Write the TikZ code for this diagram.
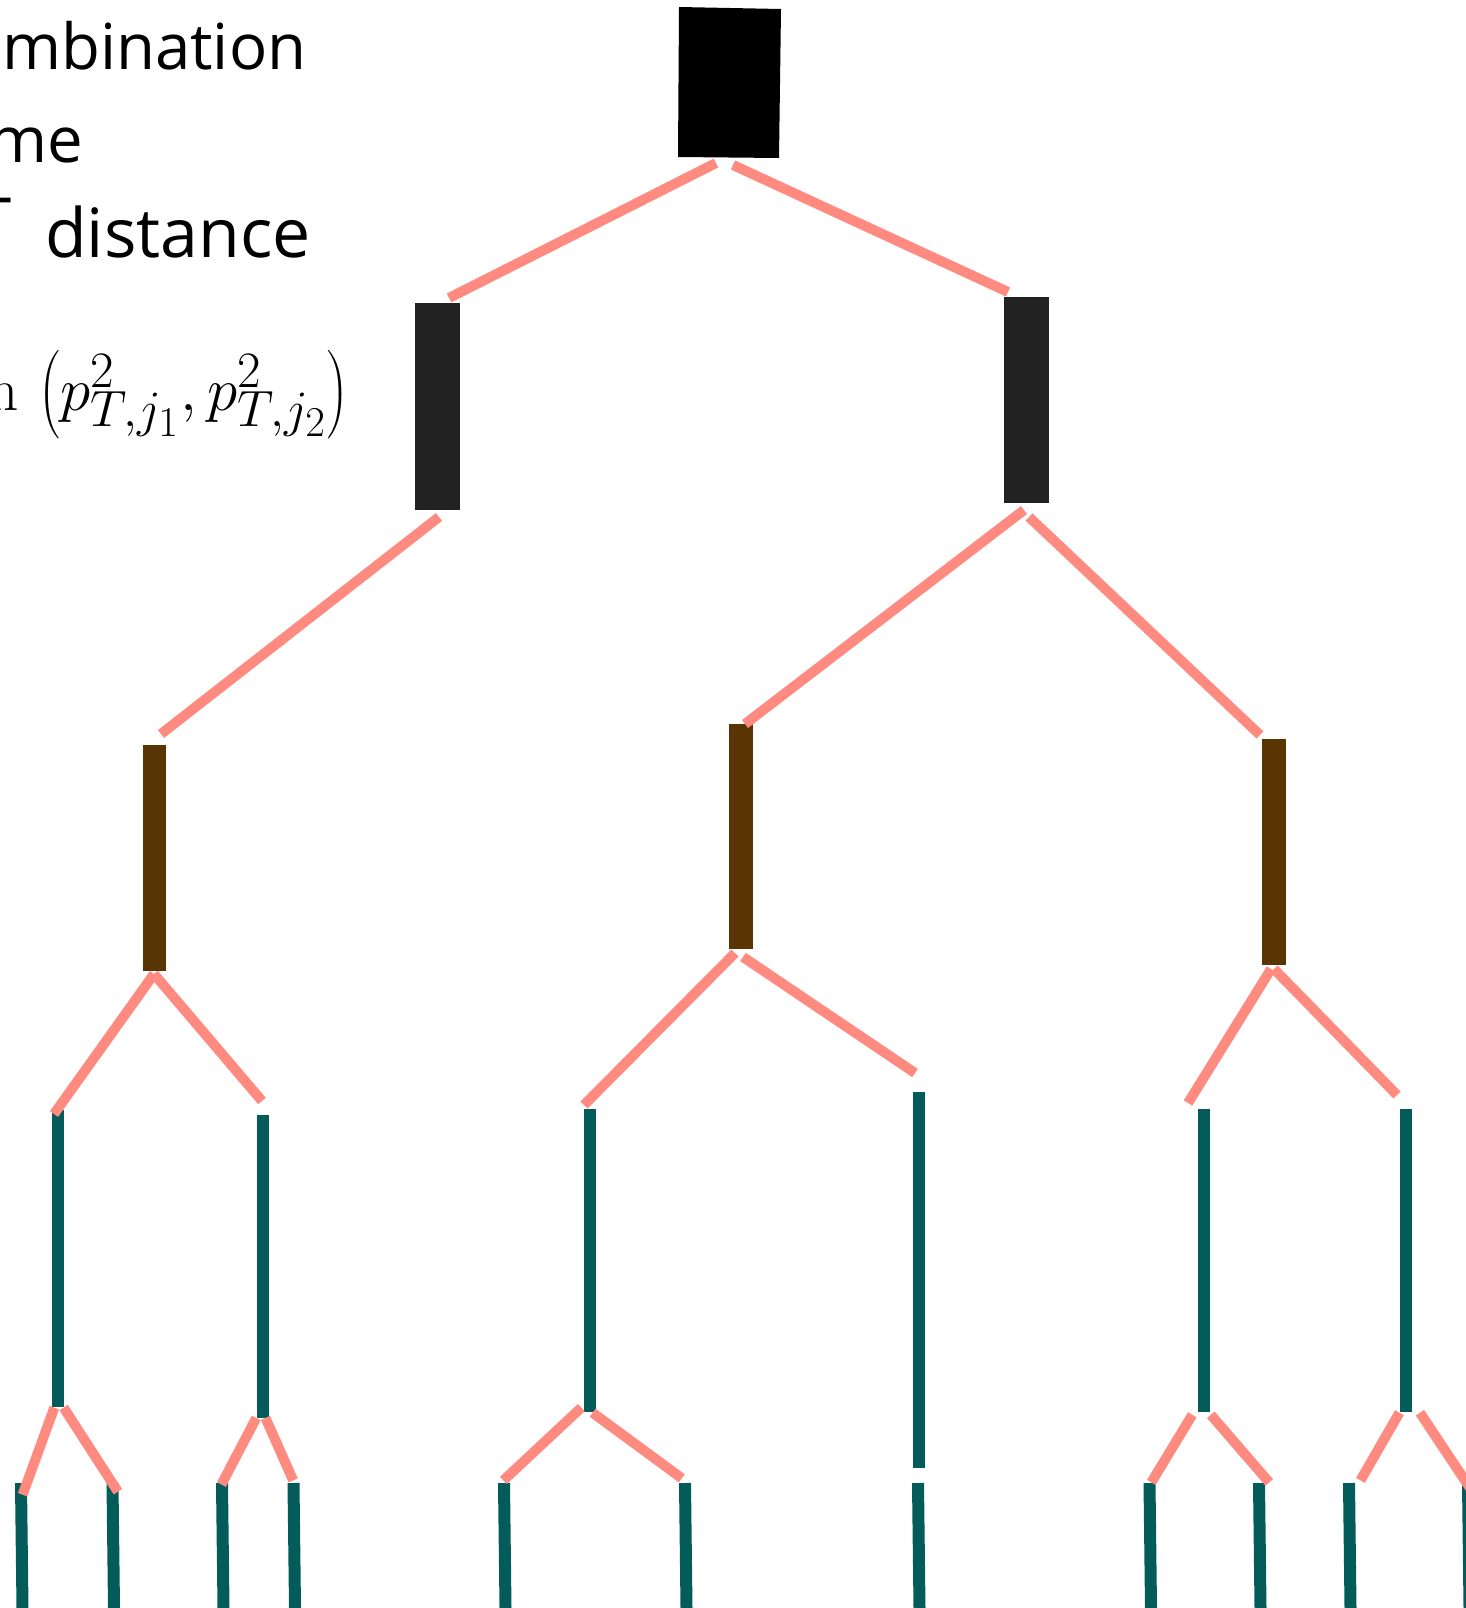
\documentclass[tikz,border=0pt]{standalone}
\usepackage[no-math]{fontspec}
\setmainfont{Open Sans}
\DeclareMathSizes{24.88}{24.88}{20.74}{17.28}
\definecolor{pinkc}{RGB}{255,139,128}
\definecolor{tealc}{RGB}{3,92,90}
\definecolor{brownc}{RGB}{88,53,2}
\definecolor{darkc}{RGB}{34,34,34}
\tikzset{
  pinkline/.style={draw=pinkc, line width=10pt},
  tealline/.style={draw=tealc, line width=12pt},
  darkbox/.style={fill=darkc, draw=none, inner sep=0pt, minimum width=45pt},
  brownbox/.style={fill=brownc, draw=none, inner sep=0pt, minimum width=23.5pt},
  bigtext/.style={inner sep=0pt, font=\fontsize{63.5}{76}\selectfont},
}
\begin{document}
\begin{tikzpicture}[x=1pt,y=-1pt]
\useasboundingbox (0,0) rectangle (1465,1608);
% texts
\node[bigtext, anchor=base west] (t1) at (2,70) {mbination};
\node[bigtext, anchor=base west] (t2) at (-12,163) {me};
\node[bigtext, anchor=base east] (t3a) at (12,243) {T};
\node[bigtext, anchor=base west, font=\fontsize{68}{80}\selectfont] (t3b) at (45,257) {distance};
\node[inner sep=0pt, anchor=base east, font=\Huge] (t4) at (349,410)
  {\scalebox{2.46}{$\mathrm{n}\,\left(p^2_{T,j_1},p^2_{T,j_2}\right)$}};
% top box
\fill[black] (679,7) -- (781,9) -- (779,158) -- (678,157) -- cycle;
\coordinate (top) at (729,82);
% level 2 boxes
\node[darkbox, minimum height=207pt] (b2l) at (437.5,406.5) {};
\node[darkbox, minimum height=206pt] (b2r) at (1026.5,400) {};
% level 3 boxes
\node[brownbox, minimum height=226pt] (b3a) at (154.25,858) {};
\node[brownbox, minimum height=225pt] (b3b) at (740.75,836.5) {};
\node[brownbox, minimum height=226pt] (b3c) at (1274,852) {};
% pink level 1
\coordinate (p1a) at (716,163); \coordinate (p1b) at (449,298);
\coordinate (p1c) at (733,165); \coordinate (p1d) at (1008,292);
\draw[pinkline] (p1a) -- (p1b);
\draw[pinkline] (p1c) -- (p1d);
% pink level 2
\coordinate (p2a) at (439,517); \coordinate (p2b) at (161,734);
\coordinate (p2c) at (1024,510); \coordinate (p2d) at (745,724);
\coordinate (p2e) at (1029,517); \coordinate (p2f) at (1260,735);
\draw[pinkline] (p2a) -- (p2b);
\draw[pinkline] (p2c) -- (p2d);
\draw[pinkline] (p2e) -- (p2f);
% teal level 4
\foreach \n/\x/\ya/\yb in {1/58.4/1110/1407, 2/262.5/1115/1418, 3/589.5/1109/1412,
  4/918.5/1092/1468, 5/1203.6/1109/1412, 6/1405.6/1109/1412}{
  \coordinate (ta\n) at (\x,\ya);
  \coordinate (tb\n) at (\x,\yb);
  \draw[tealline] (ta\n) -- (tb\n);
}
% pink level 3
\coordinate (p3a) at (154,974); \coordinate (p3b) at (743,957);
\coordinate (p3c) at (735,953); \coordinate (p3d) at (1271,969); \coordinate (p3e) at (1274,969);
\draw[pinkline] (p3a) -- (54,1114);
\draw[pinkline] (p3a) -- (262,1101);
\draw[pinkline] (p3c) -- (584,1105);
\draw[pinkline] (p3b) -- (915,1073);
\draw[pinkline] (p3d) -- (1188,1103);
\draw[pinkline] (p3e) -- (1397,1095);
% teal level 6
\foreach \n/\x in {a/21, b/112.5, c/222, d/293.5, e/504, f/685, g/918, h/1149.5, i/1259, j/1349, k/1468}{
  \coordinate (ba\n) at (\x,1483);
  \coordinate (bb\n) at (\x+1.5,1608);
  \draw[tealline] (ba\n) -- (bb\n);
}
% pink level 5
\draw[pinkline] (54.3,1407.6) -- (22.6,1494.7);
\draw[pinkline] (63.6,1407.6) -- (117.9,1491.7);
\draw[pinkline] (256.3,1417.9) -- (221.4,1484.5);
\draw[pinkline] (265.5,1417.9) -- (293.2,1480.4);
\draw[pinkline] (581.3,1407.6) -- (503.4,1480.4);
\draw[pinkline] (592.6,1412.7) -- (681.8,1478.3);
\draw[pinkline] (1192.3,1414.8) -- (1151.3,1482.4);
\draw[pinkline] (1210.8,1414.8) -- (1269.2,1482.4);
\draw[pinkline] (1399.4,1412.7) -- (1360.4,1480.4);
\draw[pinkline] (1419.9,1412.7) -- (1470,1488);
\end{tikzpicture}
\end{document}
